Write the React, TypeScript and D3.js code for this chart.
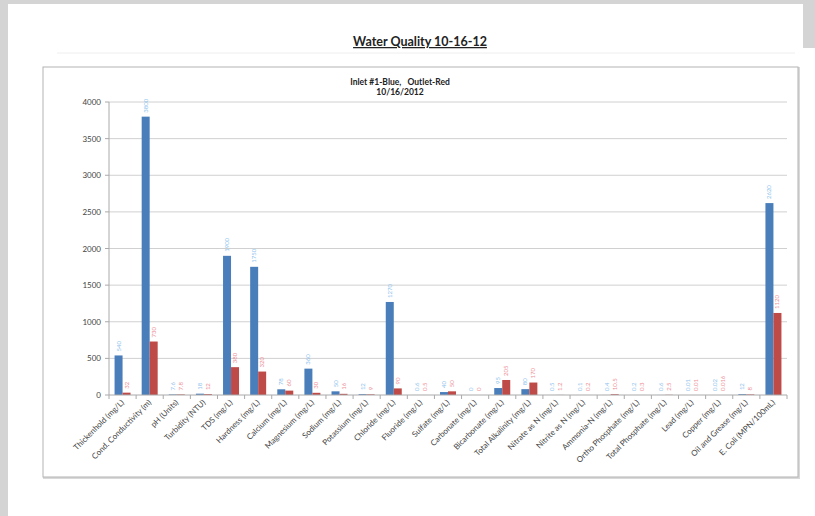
import React from 'react';
import * as d3 from 'd3';

const categories = [
  'Thickenhold (mg/L)',
  'Cond. Conductivity (m)',
  'pH (Units)',
  'Turbidity (NTU)',
  'TDS (mg/L)',
  'Hardness (mg/L)',
  'Calcium (mg/L)',
  'Magnesium (mg/L)',
  'Sodium (mg/L)',
  'Potassium (mg/L)',
  'Chloride (mg/L)',
  'Fluoride (mg/L)',
  'Sulfate (mg/L)',
  'Carbonate (mg/L)',
  'Bicarbonate (mg/L)',
  'Total Alkalinity (mg/L)',
  'Nitrate as N (mg/L)',
  'Nitrite as N (mg/L)',
  'Ammonia-N (mg/L)',
  'Ortho Phosphate (mg/L)',
  'Total Phosphate (mg/L)',
  'Lead (mg/L)',
  'Copper (mg/L)',
  'Oil and Grease (mg/L)',
  'E. Coli (MPN/100mL)',
];

const inletValues = [540, 3800, 7.6, 18, 1900, 1750, 78, 360, 50, 12, 1270, 0.6, 40, 0, 95, 80, 0.5, 0.1, 0.4, 0.2, 0.6, 0.01, 0.02, 12, 2620];
const outletValues = [32, 730, 7.8, 12, 380, 320, 60, 30, 16, 9, 90, 0.5, 50, 0, 205, 170, 1.2, 0.2, 10.5, 0.3, 2.5, 0.01, 0.016, 8, 1120];

const yTicks = [0, 500, 1000, 1500, 2000, 2500, 3000, 3500, 4000];

const pageTitle = 'Water Quality 10-16-12';
const chartTitle1 = 'Inlet #1-Blue,   Outlet-Red';
const chartTitle2 = '10/16/2012';

const series = ['inlet', 'outlet'];

export default function App() {
  const W = 815;
  const H = 516;
  const plotLeft = 109;
  const plotRight = 787;
  const plotTop = 102;
  const plotBottom = 395;

  const x = d3
    .scaleBand<string>()
    .domain(categories)
    .range([plotLeft, plotRight])
    .paddingInner(0.41)
    .paddingOuter(0.205);
  const xs = d3.scaleBand<string>().domain(series).range([0, x.bandwidth()]).paddingInner(0);
  const y = d3.scaleLinear().domain([0, 4000]).range([plotBottom, plotTop]);

  const colors: Record<string, string> = { inlet: '#4a7ebb', outlet: '#be4b48' };
  const labelColors: Record<string, string> = { inlet: '#8fc4ee', outlet: '#ee8f97' };
  const font = 'Lato, "Liberation Sans", sans-serif';

  const fmt = (v: number) => String(v);
  const step = x.step();

  return (
    <svg
      width={W}
      height={H}
      style={{ position: 'absolute', left: 0, top: 0, background: '#ffffff' }}
      fontFamily={font}
    >
      {/* page background */}
      <rect x={0} y={0} width={W} height={H} fill="#ffffff" />
      <rect x={0} y={0} width={8} height={H} fill="#d4d4d4" />
      <rect x={0} y={0} width={W} height={4} fill="#d4d4d4" />
      <rect x={803} y={0} width={12} height={48} fill="#d4d4d4" />

      {/* page title */}
      <text
        x={420}
        y={46}
        textAnchor="middle"
        fontSize={12.5}
        fontWeight="bold"
        fill="#222"
        textDecoration="underline"
      >
        {pageTitle}
      </text>
      <line x1={57} x2={795} y1={53} y2={53} stroke="#eeeeee" />

      {/* chart frame */}
      <rect x={44} y={68} width={755} height={410} fill="none" stroke="#d9d9d9" strokeWidth={2} />
      <rect x={43} y={67} width={755} height={410} fill="#ffffff" stroke="#b3b3b3" strokeWidth={1} />

      {/* chart title */}
      <text
        x={400}
        y={85}
        textAnchor="middle"
        fontSize={8.5}
        fontWeight="bold"
        fill="#222"
        style={{ whiteSpace: 'pre' }}
      >
        {chartTitle1}
      </text>
      <text x={400} y={95} textAnchor="middle" fontSize={8.5} fontWeight="bold" fill="#222">
        {chartTitle2}
      </text>

      {/* gridlines */}
      {yTicks.map((t) => (
        <g key={t}>
          {t > 0 && (
            <line x1={plotLeft} x2={plotRight} y1={y(t)} y2={y(t)} stroke="#d0d0d0" strokeWidth={1} />
          )}
          <line x1={plotLeft - 4} x2={plotLeft} y1={y(t)} y2={y(t)} stroke="#aaaaaa" />
          <text x={plotLeft - 8} y={y(t) + 3} textAnchor="end" fontSize={8} fill="#444">
            {t}
          </text>
        </g>
      ))}

      {/* bars */}
      {categories.map((c, i) => {
        const bx = x(c) as number;
        return (
          <g key={c}>
            {series.map((s) => {
              const v = s === 'inlet' ? inletValues[i] : outletValues[i];
              const sx = bx + (xs(s) as number);
              const top = y(v);
              const cx = sx + xs.bandwidth() / 2;
              return (
                <g key={s}>
                  <rect
                    x={sx}
                    y={top}
                    width={xs.bandwidth()}
                    height={Math.max(0, plotBottom - top)}
                    fill={colors[s]}
                  />
                  <text
                    transform={`translate(${cx + 2},${top - 4}) rotate(-90)`}
                    fontSize={6}
                    fill={labelColors[s]}
                  >
                    {fmt(v)}
                  </text>
                </g>
              );
            })}
          </g>
        );
      })}

      {/* axes */}
      <line x1={plotLeft} x2={plotLeft} y1={plotTop} y2={plotBottom} stroke="#aaaaaa" />
      <line x1={plotLeft} x2={plotRight} y1={plotBottom} y2={plotBottom} stroke="#aaaaaa" />
      {d3.range(categories.length + 1).map((k) => {
        const tx = plotLeft + k * step;
        return <line key={k} x1={tx} x2={tx} y1={plotBottom} y2={plotBottom + 4} stroke="#aaaaaa" />;
      })}

      {/* category labels */}
      {categories.map((c) => {
        const cx = (x(c) as number) + x.bandwidth() / 2;
        return (
          <text
            key={c}
            transform={`translate(${cx + 2},${plotBottom + 8}) rotate(-45)`}
            textAnchor="end"
            fontSize={8}
            fill="#444"
          >
            {c}
          </text>
        );
      })}
    </svg>
  );
}
